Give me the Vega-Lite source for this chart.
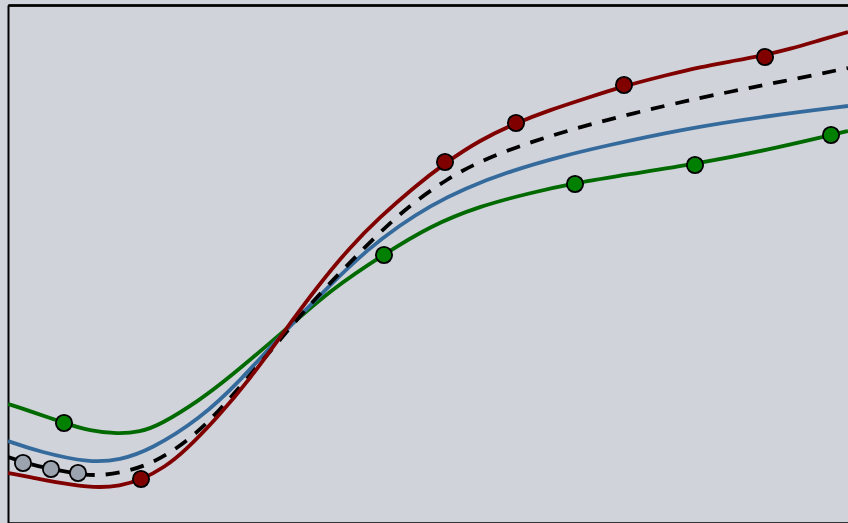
{
  "$schema": "https://vega.github.io/schema/vega-lite/v6.json",
  "width": 840,
  "height": 518,
  "autosize": {"type": "none"},
  "padding": {"left": 8, "top": 5, "right": 0, "bottom": 0},
  "background": "#d0d3da",
  "config": {
    "view": {"stroke": null},
    "axis": {"domainColor": "#000000", "domainWidth": 2, "ticks": false, "labels": false, "grid": false, "title": null}
  },
  "datasets": {
    "curves": [
      {"series": "green", "x": 0, "y": 119}, {"series": "green", "x": 22, "y": 112}, {"series": "green", "x": 56, "y": 100},
      {"series": "green", "x": 82, "y": 92}, {"series": "green", "x": 110, "y": 89}, {"series": "green", "x": 132, "y": 91},
      {"series": "green", "x": 152, "y": 98}, {"series": "green", "x": 192, "y": 123}, {"series": "green", "x": 222, "y": 146},
      {"series": "green", "x": 275, "y": 191}, {"series": "green", "x": 325, "y": 235}, {"series": "green", "x": 375, "y": 268},
      {"series": "green", "x": 422, "y": 297}, {"series": "green", "x": 472, "y": 317}, {"series": "green", "x": 522, "y": 330},
      {"series": "green", "x": 567, "y": 340}, {"series": "green", "x": 622, "y": 349}, {"series": "green", "x": 687, "y": 359},
      {"series": "green", "x": 759, "y": 373}, {"series": "green", "x": 823, "y": 388}, {"series": "green", "x": 840, "y": 392},

      {"series": "blue", "x": 0, "y": 82}, {"series": "blue", "x": 32, "y": 71}, {"series": "blue", "x": 82, "y": 60},
      {"series": "blue", "x": 112, "y": 63}, {"series": "blue", "x": 142, "y": 73}, {"series": "blue", "x": 192, "y": 104},
      {"series": "blue", "x": 232, "y": 142}, {"series": "blue", "x": 275, "y": 190}, {"series": "blue", "x": 325, "y": 241},
      {"series": "blue", "x": 359, "y": 273}, {"series": "blue", "x": 392, "y": 298}, {"series": "blue", "x": 422, "y": 317},
      {"series": "blue", "x": 455, "y": 334}, {"series": "blue", "x": 505, "y": 353}, {"series": "blue", "x": 555, "y": 367},
      {"series": "blue", "x": 592, "y": 376}, {"series": "blue", "x": 675, "y": 394}, {"series": "blue", "x": 759, "y": 407},
      {"series": "blue", "x": 840, "y": 417},

      {"series": "dashed", "x": 0, "y": 66}, {"series": "dashed", "x": 14, "y": 61}, {"series": "dashed", "x": 42, "y": 54},
      {"series": "dashed", "x": 70, "y": 49}, {"series": "dashed", "x": 92, "y": 47}, {"series": "dashed", "x": 122, "y": 52},
      {"series": "dashed", "x": 152, "y": 63}, {"series": "dashed", "x": 192, "y": 91}, {"series": "dashed", "x": 232, "y": 136},
      {"series": "dashed", "x": 265, "y": 175}, {"series": "dashed", "x": 292, "y": 207}, {"series": "dashed", "x": 319, "y": 237},
      {"series": "dashed", "x": 359, "y": 278}, {"series": "dashed", "x": 382, "y": 300}, {"series": "dashed", "x": 405, "y": 320},
      {"series": "dashed", "x": 439, "y": 344}, {"series": "dashed", "x": 472, "y": 362}, {"series": "dashed", "x": 522, "y": 381},
      {"series": "dashed", "x": 582, "y": 399}, {"series": "dashed", "x": 659, "y": 418}, {"series": "dashed", "x": 725, "y": 432},
      {"series": "dashed", "x": 782, "y": 443}, {"series": "dashed", "x": 840, "y": 455},

      {"series": "red", "x": 0, "y": 50}, {"series": "red", "x": 22, "y": 46}, {"series": "red", "x": 52, "y": 40},
      {"series": "red", "x": 87, "y": 35}, {"series": "red", "x": 112, "y": 37}, {"series": "red", "x": 133, "y": 43},
      {"series": "red", "x": 157, "y": 56}, {"series": "red", "x": 177, "y": 72}, {"series": "red", "x": 209, "y": 105},
      {"series": "red", "x": 242, "y": 144}, {"series": "red", "x": 275, "y": 190}, {"series": "red", "x": 309, "y": 236},
      {"series": "red", "x": 342, "y": 276}, {"series": "red", "x": 372, "y": 306}, {"series": "red", "x": 405, "y": 335},
      {"series": "red", "x": 437, "y": 360}, {"series": "red", "x": 472, "y": 383}, {"series": "red", "x": 508, "y": 400},
      {"series": "red", "x": 542, "y": 413}, {"series": "red", "x": 579, "y": 425}, {"series": "red", "x": 616, "y": 437},
      {"series": "red", "x": 659, "y": 448}, {"series": "red", "x": 692, "y": 456}, {"series": "red", "x": 725, "y": 462},
      {"series": "red", "x": 757, "y": 468}, {"series": "red", "x": 782, "y": 474}, {"series": "red", "x": 809, "y": 482},
      {"series": "red", "x": 840, "y": 491}
    ],
    "points": [
      {"group": "red", "x": 133, "y": 44}, {"group": "red", "x": 437, "y": 361}, {"group": "red", "x": 508, "y": 400},
      {"group": "red", "x": 616, "y": 438}, {"group": "red", "x": 757, "y": 466},
      {"group": "green", "x": 56, "y": 100}, {"group": "green", "x": 376, "y": 268}, {"group": "green", "x": 567, "y": 339},
      {"group": "green", "x": 687, "y": 358}, {"group": "green", "x": 823, "y": 388},
      {"group": "gray", "x": 15, "y": 60}, {"group": "gray", "x": 43, "y": 54}, {"group": "gray", "x": 70, "y": 50}
    ]
  },
  "resolve": {"axis": {"x": "independent"}},
  "layer": [
    {
      "data": {"name": "curves"},
      "transform": [{"filter": "datum.series === 'green'"}],
      "mark": {"type": "line", "interpolate": "basis", "color": "#006a00", "strokeWidth": 3.8, "clip": true},
      "encoding": {
        "x": {"field": "x", "type": "quantitative", "scale": {"domain": [0, 840], "nice": false, "zero": false}, "axis": {"orient": "bottom"}},
        "y": {"field": "y", "type": "quantitative", "scale": {"domain": [0, 518], "nice": false, "zero": false}, "axis": {"orient": "left"}}
      }
    },
    {
      "data": {"name": "curves"},
      "transform": [{"filter": "datum.series === 'blue'"}],
      "mark": {"type": "line", "interpolate": "basis", "color": "#356a9c", "strokeWidth": 3.8, "clip": true},
      "encoding": {
        "x": {"field": "x", "type": "quantitative", "axis": {"orient": "top"}},
        "y": {"field": "y", "type": "quantitative"}
      }
    },
    {
      "data": {"name": "curves"},
      "transform": [{"filter": "datum.series === 'dashed'"}],
      "mark": {"type": "line", "interpolate": "basis", "color": "#000000", "strokeWidth": 3.8, "strokeDash": [14, 11], "clip": true},
      "encoding": {
        "x": {"field": "x", "type": "quantitative"},
        "y": {"field": "y", "type": "quantitative"}
      }
    },
    {
      "data": {"name": "curves"},
      "transform": [{"filter": "datum.series === 'red'"}],
      "mark": {"type": "line", "interpolate": "basis", "color": "#800000", "strokeWidth": 3.8, "clip": true},
      "encoding": {
        "x": {"field": "x", "type": "quantitative"},
        "y": {"field": "y", "type": "quantitative"}
      }
    },
    {
      "data": {"name": "points"},
      "mark": {"type": "point", "shape": "circle", "filled": true, "size": 265, "stroke": "#000000", "strokeWidth": 1.8, "opacity": 1, "clip": true},
      "encoding": {
        "x": {"field": "x", "type": "quantitative"},
        "y": {"field": "y", "type": "quantitative"},
        "fill": {"field": "group", "type": "nominal", "scale": {"domain": ["red", "green", "gray"], "range": ["#800000", "#008000", "#9aa3ae"]}, "legend": null}
      }
    }
  ]
}
